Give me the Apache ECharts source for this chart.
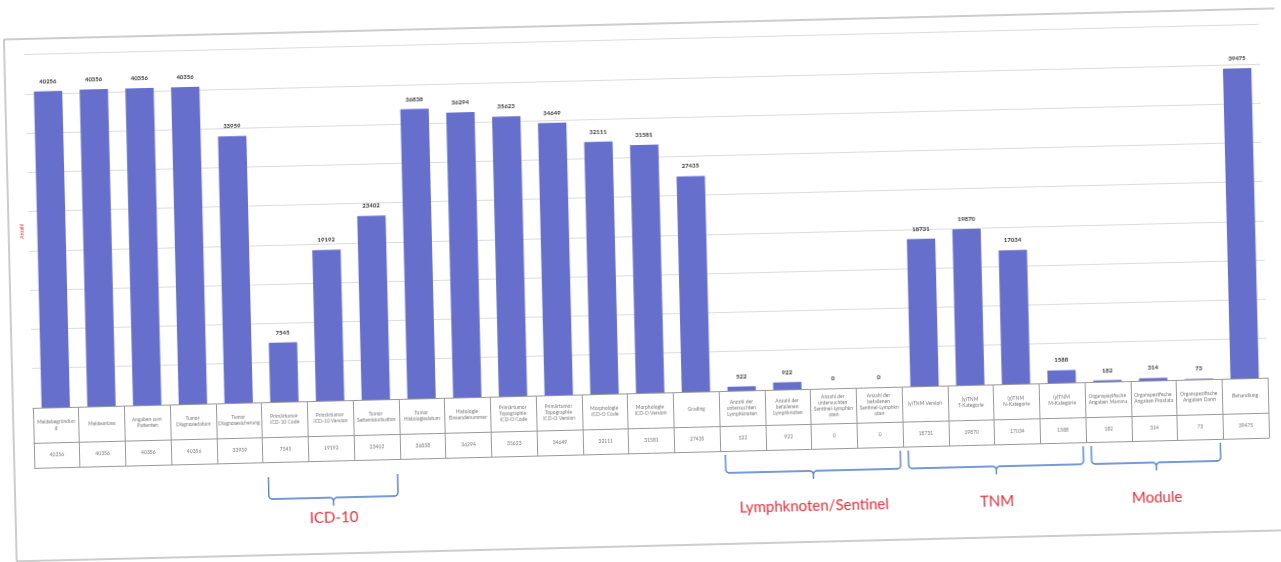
<!DOCTYPE html>
<html>
<head>
<meta charset="utf-8">
<script src="https://cdn.jsdelivr.net/npm/echarts@6/dist/echarts.min.js"></script>
<style>
html, body { margin: 0; padding: 0; background: #fff; overflow: hidden; }
#chart { width: 1281px; height: 562px; transform: rotate(-1.4deg); }
</style>
</head>
<body>
<div id="chart"></div>
<script>
// Felder (Kategorien) und Anzahl ausgefuellter Werte
const categories = [
  'Meldebegründung', 'Meldeanlass', 'Angaben zum Patienten', 'Tumor Diagnosedatum',
  'Tumor Diagnosesicherung', 'Primärtumor ICD-10 Code', 'Primärtumor ICD-10 Version',
  'Tumor Seitenlokalisation', 'Tumor Histologiedatum', 'Histologie Einsendenummer',
  'Primärtumor Topographie ICD-O Code', 'Primärtumor Topographie ICD-O Version',
  'Morphologie ICD-O Code', 'Morphologie ICD-O Version', 'Grading',
  'Anzahl der untersuchten Lymphknoten', 'Anzahl der befallenen Lymphknoten',
  'Anzahl der untersuchten Sentinel-Lymphknoten', 'Anzahl der befallenen Sentinel-Lymphknoten',
  '(y)TNM Version', '(y)TNM T-Kategorie', '(y)TNM N-Kategorie', '(y)TNM M-Kategorie',
  'Organspezifische Angaben Mamma', 'Organspezifische Angaben Prostata',
  'Organspezifische Angaben Darm', 'Behandlung'
]
const counts = [
  40256, 40356, 40356, 40356, 33959, 7545, 19192, 23402, 36838, 36294, 35623, 34649,
  32111, 31581, 27435, 522, 922, 0, 0, 18731, 19870, 17034, 1588, 182, 314, 73, 39475
]
const yMin = 0
const yMax = 45000
const yStep = 5000

// Gruppen-Klammern unter der Tabelle (Index von / bis)
const groups = [
  { name: 'ICD-10', from: 5, to: 7 },
  { name: 'Lymphknoten/Sentinel', from: 15, to: 18 },
  { name: 'TNM', from: 19, to: 22 },
  { name: 'Module', from: 23, to: 25 }
]

const font = 'Lato, "Liberation Sans", sans-serif'
const chart = echarts.init(document.getElementById('chart'))

const option = {
  animation: false,
  textStyle: { fontFamily: font },
  grid: { left: 30, right: 16, top: 39.5, bottom: 169 },
  xAxis: [
    {
      type: 'category',
      data: categories,
      axisLine: { lineStyle: { color: '#999', width: 1 } },
      axisTick: { show: true, interval: 0, length: 60, lineStyle: { color: '#999' } },
      axisLabel: {
        interval: 0, width: 42, overflow: 'break', fontSize: 5, lineHeight: 6,
        color: '#777', verticalAlign: 'middle', margin: 17
      }
    },
    {
      type: 'category',
      data: counts.map(String),
      position: 'bottom',
      offset: 35,
      axisLine: { show: true, lineStyle: { color: '#999', width: 1 } },
      axisTick: { show: false },
      axisLabel: { interval: 0, fontSize: 5, color: '#777', verticalAlign: 'middle', margin: 12 }
    },
    {
      type: 'category',
      data: categories,
      position: 'bottom',
      offset: 60,
      axisLine: { show: true, lineStyle: { color: '#999', width: 1 } },
      axisTick: { show: false },
      axisLabel: { show: false }
    }
  ],
  yAxis: {
    type: 'value',
    min: yMin,
    max: yMax,
    interval: yStep,
    name: 'Anzahl',
    nameLocation: 'middle',
    nameRotate: 90,
    nameGap: 4,
    nameTextStyle: { fontSize: 5, color: '#e0303a' },
    axisLine: { show: false },
    axisTick: { show: false },
    axisLabel: { show: false },
    splitLine: { lineStyle: { color: '#dcdcdc', width: 1 } }
  },
  series: [
    {
      type: 'bar',
      xAxisIndex: 0,
      data: counts,
      barCategoryGap: '38%',
      itemStyle: { color: '#6670cc' },
      label: {
        show: true, position: 'top', distance: 7,
        fontSize: 6, fontWeight: 'bold', color: '#333'
      }
    }
  ]
}
chart.setOption(option)

// Klammern an den Kategorien ausrichten
const x0 = chart.convertToPixel({ xAxisIndex: 0 }, 0)
const x1 = chart.convertToPixel({ xAxisIndex: 0 }, 1)
const band = x1 - x0
const labelY = 510

const graphic = [
  {
    type: 'rect',
    shape: { x: 10, y: 24, width: 1300, height: 522 },
    style: { fill: 'none', stroke: '#9a9a9a', lineWidth: 1 },
    silent: true
  }
]
groups.forEach((g, i) => {
  // die ICD-10-Klammer sitzt etwas tiefer
  const braceTop = i === 0 ? 468 : 457
  const braceLine = i === 0 ? 490 : 475
  const braceTip = braceLine + 8
  const l = x0 + (g.from - 0.5) * band + 5
  const r = x0 + (g.to + 0.5) * band - 3
  const c = (l + r) / 2
  const k = 3
  graphic.push({
    type: 'polyline',
    shape: {
      points: [
        [l, braceTop], [l, braceLine - k], [l + 1, braceLine - 1], [l + k, braceLine],
        [c - k, braceLine], [c - 1, braceLine + 1], [c, braceLine + k], [c, braceTip],
        [c, braceLine + k], [c + 1, braceLine + 1], [c + k, braceLine],
        [r - k, braceLine], [r - 1, braceLine - 1], [r, braceLine - k], [r, braceTop]
      ]
    },
    style: { fill: 'none', stroke: '#4a78cc', lineWidth: 1.3 },
    silent: true
  })
  graphic.push({
    type: 'text',
    x: c,
    y: labelY,
    style: {
      text: g.name, fill: '#e0303a', fontSize: 15, fontFamily: font,
      align: 'center', verticalAlign: 'middle'
    },
    silent: true
  })
})
chart.setOption({ graphic })
</script>
</body>
</html>
